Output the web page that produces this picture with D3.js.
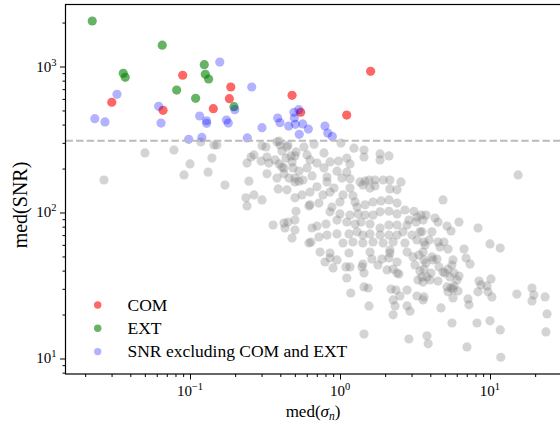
<!DOCTYPE html>
<html>
<head>
<meta charset="utf-8">
<script src="https://cdn.jsdelivr.net/npm/d3@7/dist/d3.min.js"></script>
<style>
body { margin: 0; background: #fff; }
svg text { font-family: "Liberation Serif", "DejaVu Serif", serif; fill: #000; }
</style>
</head>
<body>
<div id="chart"></div>
<script>
// COM sources
var comSigma = [0.0894, 0.0301, 0.0661, 0.187, 0.183, 0.143, 0.479, 0.547, 1.60, 1.108];
var comSNR   = [871, 569, 501, 724, 602, 514, 635, 486, 927, 465];

// EXT sources
var extSigma = [0.0223, 0.0653, 0.0359, 0.0370, 0.1245, 0.1265, 0.133, 0.0815, 0.109, 0.1965];
var extSNR   = [2050, 1400, 898, 843, 1029, 885, 821, 690, 605, 531];

// SNR above threshold, excluding COM and EXT
var snrSigma = [0.0232, 0.0271, 0.0326, 0.0618, 0.0641, 0.158, 0.258, 0.116, 0.129, 0.129,
    0.175, 0.180, 0.199, 0.098, 0.120, 0.241, 0.302, 0.384, 0.398, 0.455,
    0.493, 0.496, 0.504, 0.531, 0.535, 0.615, 0.564, 0.794, 0.828, 0.889];
var snrSNR = [439, 417, 645, 534, 410, 1073, 724, 458, 425, 408,
    430, 410, 506, 317, 327, 324, 381, 444, 412, 391,
    486, 444, 402, 506, 343, 373, 404, 391, 350, 332];

// all other sources
var bgSigma = [0.0267, 0.0501, 0.0782, 0.100, 0.0912, 0.140, 0.132, 0.171, 0.118, 0.1445,
    0.151, 0.247, 0.240, 0.255, 0.267, 0.298, 0.302, 0.321, 0.326, 0.326,
    0.336, 0.380, 0.393, 0.398, 0.410, 0.443, 0.450, 0.369, 0.393, 0.410,
    0.423, 0.437, 0.471, 0.479, 0.457, 0.380, 0.423, 0.387, 0.443, 0.501,
    0.533, 0.236, 0.240, 0.267, 0.302, 0.501, 0.509, 0.358, 0.423, 0.450,
    0.430, 0.479, 0.558, 0.621, 0.621, 0.509, 0.501, 0.575, 0.671, 0.603,
    0.631, 0.486, 0.533, 0.603, 0.702, 0.782, 0.782, 0.858, 0.977, 1.015,
    1.11, 1.166, 1.24, 1.445, 1.445, 1.85, 1.85, 2.12, 0.501, 0.567,
    0.651, 0.702, 0.819, 0.819, 0.912, 0.955, 1.03, 1.11, 1.166, 1.166,
    1.36, 1.47, 1.56, 1.71, 1.94, 2.15, 2.55, 2.40, 2.15, 1.71,
    1.42, 1.585, 1.22, 1.047, 0.858, 0.770, 0.631, 0.631, 0.724, 0.884,
    1.00, 1.26, 1.30, 1.47, 1.66, 1.88, 2.12, 2.40, 2.71, 3.11,
    3.74, 3.26, 2.88, 2.40, 2.12, 1.85, 1.66, 1.47, 1.32, 1.166,
    1.00, 0.858, 0.955, 0.807, 0.702, 0.651, 0.501, 1.11, 1.26, 1.38,
    1.585, 1.85, 2.12, 2.40, 2.80, 3.21, 3.58, 3.41, 3.02, 2.63,
    2.40, 2.12, 1.85, 1.585, 1.42, 1.30, 1.148, 0.955, 0.819, 0.724,
    0.641, 0.501, 1.047, 1.22, 1.42, 1.66, 1.94, 2.26, 2.71, 3.26,
    3.69, 0.736, 0.858, 1.585, 2.15, 2.80, 3.58, 15.4, 4.86, 3.47,
    4.30, 4.50, 5.17, 6.21, 5.50, 8.32, 4.10, 3.52, 3.93, 4.50,
    4.93, 3.63, 5.25, 6.71, 10.0, 11.7, 4.64, 6.92, 7.36, 5.67,
    5.58, 5.25, 6.21, 5.75, 6.03, 5.17, 5.50, 5.75, 5.25, 6.12,
    5.67, 7.13, 7.24, 8.45, 8.71, 8.32, 9.55, 9.70, 10.3, 10.15,
    8.19, 10.0, 11.7, 15.1, 19.05, 19.6, 19.05, 23.3, 24.0, 23.6,
    11.8, 7.02, 5.58, 4.71, 3.87, 3.80, 2.88, 1.445, 1.56, 2.26,
    2.19, 2.36, 2.80, 2.51, 2.26, 2.33, 2.80, 2.93, 3.26, 3.58,
    1.18, 1.11, 1.445, 1.54, 0.899, 0.794, 0.858, 0.955, 1.096, 1.166,
    1.40, 1.42, 1.63, 1.905, 2.06, 2.26, 2.47, 2.12, 2.40, 3.31,
    3.52, 3.80, 4.04, 4.50, 3.63, 3.74, 4.10, 4.43, 4.86, 4.57,
    3.41, 3.16, 3.07, 5.01, 5.41, 3.98, 3.58, 3.63, 4.17, 5.67,
    3.63, 1.148, 1.445, 1.79, 2.15, 2.40, 3.36];
var bgSNR = [167, 256, 268, 215, 181, 236, 189, 154, 304, 290,
    290, 164, 218, 240, 248, 225, 286, 281, 184, 240,
    218, 305, 308, 290, 264, 281, 290, 229, 215, 205,
    202, 236, 244, 222, 172, 172, 184, 145, 143, 162,
    164, 126, 111, 132, 122, 126, 102, 82.1, 84.7, 86.0,
    78.3, 66.8, 132, 61.8, 111, 260, 244, 281, 294, 248,
    229, 202, 192, 202, 218, 256, 202, 222, 225, 299,
    236, 215, 276, 268, 240, 252, 229, 244, 172, 167,
    178, 150, 175, 162, 147, 192, 172, 189, 170, 147,
    162, 164, 167, 167, 167, 167, 162, 143, 145, 152,
    154, 147, 130, 132, 138, 132, 138, 113, 116, 109,
    118, 118, 109, 113, 118, 120, 122, 116, 104, 102,
    96, 93, 88.8, 97.7, 102, 101, 96, 96, 97.7, 96,
    97.7, 101, 88.8, 83.4, 80.7, 78.3, 88.8, 86.0, 83.4, 86.0,
    83.4, 78.3, 82.1, 82.1, 82.1, 86.0, 88.8, 73.7, 70.0, 73.7,
    70.0, 70.0, 70.0, 71.3, 70.0, 73.7, 71.3, 71.3, 70.0, 67.9,
    62.8, 75.9, 61.8, 62.8, 61.8, 62.8, 61.8, 62.8, 61.8, 64.9,
    59.9, 53.6, 52.8, 53.6, 55.3, 53.6, 53.6, 181, 122, 96,
    91.7, 86.0, 80.7, 86.0, 74.7, 78.3, 73.7, 73.7, 64.9, 62.8,
    62.8, 62.8, 56.2, 56.2, 60.9, 57.1, 58.0, 48.8, 44.3, 47.3,
    43.7, 41.0, 36.7, 38.5, 34.5, 30.9, 30.4, 31.4, 28.6, 29.0,
    26.0, 25.6, 23.3, 33.9, 31.9, 28.6, 31.4, 28.6, 26.4, 35.1,
    17.5, 18.1, 15.7, 27.6, 30.4, 27.2, 24.8, 26.4, 20.2, 15.2,
    10.2, 12.0, 17.5, 22.2, 12.6, 14.3, 13.6, 14.7, 22.9, 19.9,
    29.9, 29.4, 29.4, 26.8, 25.2, 22.9, 22.9, 21.1, 26.8, 25.2,
    28.1, 35.6, 30.9, 30.4, 41.7, 45.8, 48.8, 47.3, 42.4, 42.4,
    42.4, 44.3, 48.0, 48.0, 40.4, 41.0, 37.9, 48.8, 45.8, 34.5,
    36.2, 36.2, 38.5, 33.9, 41.0, 45.1, 49.6, 48.0, 39.1, 42.4,
    39.8, 43.7, 49.6, 38.5, 36.2, 34.5, 33.4, 47.3, 47.3, 29.9,
    26.4, 52.8, 38.5, 43.7, 52.8, 38.5, 51.1];

var snrThreshold = 310;

// axes
var xDomain = [0.01479, 30.2];
var yDomain = [7.83, 2659];
var xMajor = [0.1, 1, 10];
var xMajorExp = ["\u22121", "0", "1"];
var yMajor = [10, 100, 1000];
var yMajorExp = ["1", "2", "3"];

var legendLabels = ["COM", "EXT", "SNR excluding COM and EXT"];

// set the dimensions and margins of the graph
var margin = { top: 4.5, right: -2, bottom: 47, left: 65.5 },
    width = 560 - margin.left - margin.right,
    height = 421 - margin.top - margin.bottom;

var svgRoot = d3.select("#chart")
    .append("svg")
    .attr("width", 560)
    .attr("height", 421);

var svg = svgRoot.append("g")
    .attr("transform", "translate(" + margin.left + "," + margin.top + ")");

var x = d3.scaleLog().domain(xDomain).range([0, width]);
var y = d3.scaleLog().domain(yDomain).range([height, 0]);

function minorTicks(dom) {
    var out = [];
    for (var e = -3; e <= 4; e++) {
        for (var m = 2; m <= 9; m++) {
            var v = m * Math.pow(10, e);
            if (v > dom[0] && v < dom[1]) out.push(v);
        }
    }
    return out;
}

var series = [
    { xs: bgSigma, ys: bgSNR, fill: "#808080", op: 0.34 },
    { xs: comSigma, ys: comSNR, fill: "#ff0000", op: 0.6 },
    { xs: extSigma, ys: extSNR, fill: "#008000", op: 0.6 },
    { xs: snrSigma, ys: snrSNR, fill: "#0000ff", op: 0.3 }
];

var plot = svg.append("g");
series.forEach(function (s) {
    plot.append("g")
        .selectAll("circle")
        .data(d3.range(s.xs.length))
        .enter().append("circle")
        .attr("cx", function (i) { return x(s.xs[i]); })
        .attr("cy", function (i) { return y(s.ys[i]); })
        .attr("r", 4.6)
        .attr("fill", s.fill)
        .attr("fill-opacity", s.op);
});

// threshold line
svg.append("line")
    .attr("x1", 0).attr("x2", width)
    .attr("y1", y(snrThreshold)).attr("y2", y(snrThreshold))
    .attr("stroke", "#bbbbbb")
    .attr("stroke-width", 2)
    .attr("stroke-dasharray", "7.4,3.2");

// X axis
var gxMinor = svg.append("g")
    .attr("transform", "translate(0," + height + ")")
    .call(d3.axisBottom(x).tickValues(minorTicks(xDomain)).tickSize(3).tickFormat(""));
var gxMajor = svg.append("g")
    .attr("transform", "translate(0," + height + ")")
    .call(d3.axisBottom(x).tickValues(xMajor).tickSize(5.5).tickFormat(""));

// Y axis
var gyMinor = svg.append("g")
    .call(d3.axisLeft(y).tickValues(minorTicks(yDomain)).tickSize(3).tickFormat(""));
var gyMajor = svg.append("g")
    .call(d3.axisLeft(y).tickValues(yMajor).tickSize(5.5).tickFormat(""));

[gxMinor, gxMajor, gyMinor, gyMajor].forEach(function (g) {
    g.select(".domain").remove();
    g.selectAll("line").attr("stroke", "#000").attr("stroke-width", 1);
});

// frame
svg.append("rect")
    .attr("width", width).attr("height", height)
    .attr("fill", "none")
    .attr("stroke", "#000")
    .attr("stroke-width", 1.2);

// tick labels
xMajor.forEach(function (v, i) {
    var t = svg.append("text")
        .attr("x", x(v)).attr("y", height + 22)
        .attr("text-anchor", "middle")
        .style("font-size", "15px");
    t.append("tspan").text("10");
    t.append("tspan").attr("dy", -6).style("font-size", "10.5px").text(xMajorExp[i]);
});
yMajor.forEach(function (v, i) {
    var t = svg.append("text")
        .attr("x", -9).attr("y", y(v) + 5)
        .attr("text-anchor", "end")
        .style("font-size", "15px");
    t.append("tspan").text("10");
    t.append("tspan").attr("dy", -6).style("font-size", "10.5px").text(yMajorExp[i]);
});

// axis titles
var xt = svgRoot.append("text")
    .attr("x", 313).attr("y", 417)
    .attr("text-anchor", "middle")
    .style("font-size", "17px");
xt.append("tspan").text("med(");
xt.append("tspan").style("font-style", "italic").text("\u03c3");
xt.append("tspan").attr("dy", 3).style("font-style", "italic").style("font-size", "11.5px").text("n");
xt.append("tspan").attr("dy", -3).text(")");

svgRoot.append("text")
    .attr("transform", "translate(27,205) rotate(-90)")
    .attr("text-anchor", "middle")
    .style("font-size", "20px")
    .text("med(SNR)");

// legend
var legend = svgRoot.append("g");
series.slice(1).forEach(function (s, i) {
    var ly = 305 + i * 23.3;
    legend.append("circle")
        .attr("cx", 97.7).attr("cy", ly).attr("r", 3.7)
        .attr("fill", s.fill).attr("fill-opacity", s.op);
    legend.append("text")
        .attr("x", 127.5).attr("y", ly + 5.8)
        .style("font-size", "17.5px")
        .text(legendLabels[i]);
});
</script>
</body>
</html>
